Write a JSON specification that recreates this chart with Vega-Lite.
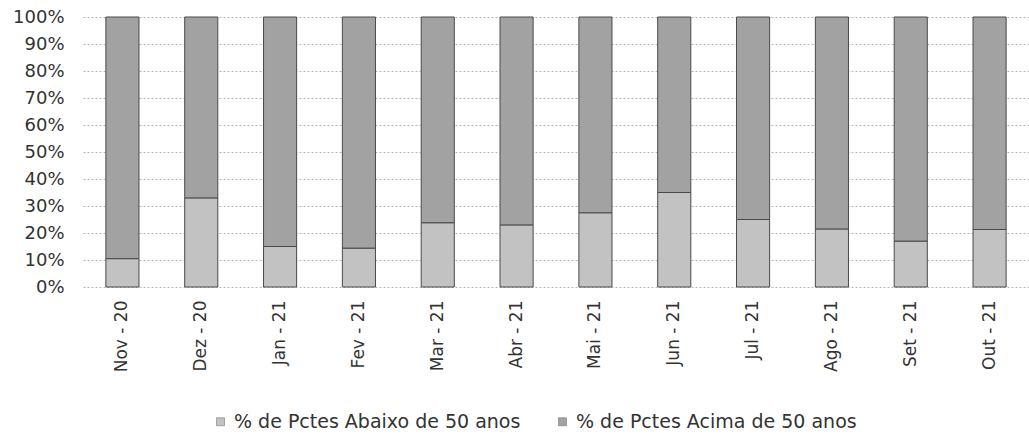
{
  "$schema": "https://vega.github.io/schema/vega-lite/v6.json",
  "width": 946,
  "height": 270,
  "autosize": "none",
  "padding": {"left": 83, "top": 17, "right": 0, "bottom": 160},
  "background": "white",
  "config": {
    "view": {"stroke": null},
    "font": "DejaVu Sans"
  },
  "data": {
    "values": [
      {"mes": "Nov - 20", "grupo": "% de Pctes Abaixo de 50 anos", "pct": 0.105},
      {"mes": "Nov - 20", "grupo": "% de Pctes Acima de 50 anos", "pct": 0.895},
      {"mes": "Dez - 20", "grupo": "% de Pctes Abaixo de 50 anos", "pct": 0.33},
      {"mes": "Dez - 20", "grupo": "% de Pctes Acima de 50 anos", "pct": 0.67},
      {"mes": "Jan - 21", "grupo": "% de Pctes Abaixo de 50 anos", "pct": 0.15},
      {"mes": "Jan - 21", "grupo": "% de Pctes Acima de 50 anos", "pct": 0.85},
      {"mes": "Fev - 21", "grupo": "% de Pctes Abaixo de 50 anos", "pct": 0.144},
      {"mes": "Fev - 21", "grupo": "% de Pctes Acima de 50 anos", "pct": 0.856},
      {"mes": "Mar - 21", "grupo": "% de Pctes Abaixo de 50 anos", "pct": 0.238},
      {"mes": "Mar - 21", "grupo": "% de Pctes Acima de 50 anos", "pct": 0.762},
      {"mes": "Abr - 21", "grupo": "% de Pctes Abaixo de 50 anos", "pct": 0.23},
      {"mes": "Abr - 21", "grupo": "% de Pctes Acima de 50 anos", "pct": 0.77},
      {"mes": "Mai - 21", "grupo": "% de Pctes Abaixo de 50 anos", "pct": 0.275},
      {"mes": "Mai - 21", "grupo": "% de Pctes Acima de 50 anos", "pct": 0.725},
      {"mes": "Jun - 21", "grupo": "% de Pctes Abaixo de 50 anos", "pct": 0.35},
      {"mes": "Jun - 21", "grupo": "% de Pctes Acima de 50 anos", "pct": 0.65},
      {"mes": "Jul - 21", "grupo": "% de Pctes Abaixo de 50 anos", "pct": 0.25},
      {"mes": "Jul - 21", "grupo": "% de Pctes Acima de 50 anos", "pct": 0.75},
      {"mes": "Ago - 21", "grupo": "% de Pctes Abaixo de 50 anos", "pct": 0.215},
      {"mes": "Ago - 21", "grupo": "% de Pctes Acima de 50 anos", "pct": 0.785},
      {"mes": "Set - 21", "grupo": "% de Pctes Abaixo de 50 anos", "pct": 0.17},
      {"mes": "Set - 21", "grupo": "% de Pctes Acima de 50 anos", "pct": 0.83},
      {"mes": "Out - 21", "grupo": "% de Pctes Abaixo de 50 anos", "pct": 0.213},
      {"mes": "Out - 21", "grupo": "% de Pctes Acima de 50 anos", "pct": 0.787}
    ]
  },
  "mark": {"type": "bar", "stroke": "#4a4a4a", "strokeWidth": 1},
  "encoding": {
    "x": {
      "field": "mes",
      "type": "nominal",
      "sort": null,
      "title": null,
      "scale": {"paddingInner": 0.58, "paddingOuter": 0.29},
      "axis": {
        "labelAngle": -90,
        "labelFontSize": 17,
        "labelColor": "#333333",
        "labelPadding": 13,
        "ticks": false,
        "domain": false
      }
    },
    "y": {
      "field": "pct",
      "type": "quantitative",
      "stack": "zero",
      "title": null,
      "scale": {"domain": [0, 1], "nice": false},
      "axis": {
        "format": ".0%",
        "values": [0, 0.1, 0.2, 0.3, 0.4, 0.5, 0.6, 0.7, 0.8, 0.9, 1],
        "labelFontSize": 18,
        "labelColor": "#333333",
        "labelPadding": 19,
        "ticks": false,
        "domain": false,
        "grid": true,
        "gridColor": "#b5b5b5",
        "gridDash": [2, 2],
        "gridWidth": 1
      }
    },
    "order": {"field": "grupo", "type": "nominal", "sort": "ascending"},
    "color": {
      "field": "grupo",
      "type": "nominal",
      "title": null,
      "scale": {
        "domain": ["% de Pctes Abaixo de 50 anos", "% de Pctes Acima de 50 anos"],
        "range": ["#c2c2c2", "#a2a2a2"]
      },
      "legend": {
        "orient": "none",
        "direction": "horizontal",
        "legendX": 128,
        "legendY": 395,
        "symbolType": "square",
        "symbolSize": 64,
        "symbolStrokeColor": "#666666",
        "symbolStrokeWidth": 0.5,
        "labelFontSize": 19,
        "labelColor": "#333333",
        "labelLimit": 400,
        "columnPadding": 32,
        "labelOffset": 4
      }
    }
  }
}
